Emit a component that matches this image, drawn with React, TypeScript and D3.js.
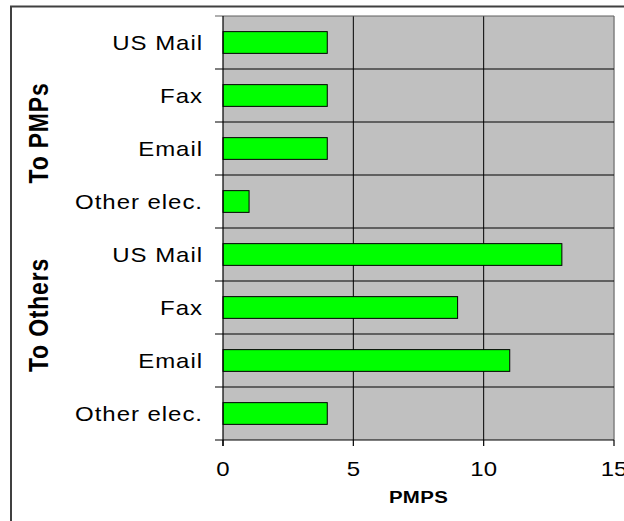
import React from "react";
import * as d3 from "d3";

// categories top to bottom
const categories = ["US Mail", "Fax", "Email", "Other elec.", "US Mail", "Fax", "Email", "Other elec."];
const groups = ["To PMPs", "To PMPs", "To PMPs", "To PMPs", "To Others", "To Others", "To Others", "To Others"];
const values = [4, 4, 4, 1, 13, 9, 11, 4];
const groupLabels = ["To PMPs", "To Others"];
const xTicks = [0, 5, 10, 15];
const xTitle = "PMPS";

const W = 624;
const H = 521;
const margin = { top: 16, right: 10, bottom: 81, left: 223 };
const font = "'Liberation Sans', Arial, sans-serif";
const sx = 1.2; // the original text is drawn a bit wide

const App = () => {
	const x = d3.scaleLinear().domain([0, 15]).range([margin.left, W - margin.right]);
	const keys = categories.map((c, i) => i + ":" + c);
	const y = d3.scaleBand().domain(keys).range([margin.top, H - margin.bottom]).padding(0);
	const bw = y.bandwidth();
	const barH = bw * 0.41;
	const x0 = x(0);
	const x1 = x(15);
	const yTop = margin.top;
	const yBot = H - margin.bottom;
	const bounds = keys.map((k) => y(k)).concat([yBot]);

	// centre of each group's bands
	const groupCenter = (g) => {
		const idx = groups.map((gg, i) => (gg === g ? i : -1)).filter((i) => i >= 0);
		const a = y(keys[idx[0]]);
		const b = y(keys[idx[idx.length - 1]]) + bw;
		return (a + b) / 2;
	};

	return (
		<svg width={W} height={H} style={{ position: "absolute", left: 0, top: 0 }}>
			<rect x={0} y={0} width={W} height={H} fill="#fff" />
			<rect x={11} y={6.5} width={W + 20} height={H + 20} fill="none" stroke="#404040" strokeWidth={2} />

			<rect x={x0} y={yTop} width={x1 - x0} height={yBot - yTop} fill="#c0c0c0" />

			{xTicks.slice(1, -1).map((t) => (
				<line key={"g" + t} x1={x(t)} x2={x(t)} y1={yTop} y2={yBot} stroke="#000" strokeWidth={1} />
			))}
			<line x1={x1} x2={x1} y1={yTop} y2={yBot} stroke="#808080" strokeWidth={1.5} />

			{bounds.map((b, i) => (
				<line key={"h" + i} x1={x0 - 8} x2={x1} y1={b} y2={b} stroke={i === 0 ? "#606060" : "#000"} strokeWidth={1.2} />
			))}

			{keys.map((k, i) => (
				<rect
					key={"b" + k}
					x={x0}
					y={y(k) + (bw - barH) / 2}
					width={x(values[i]) - x0}
					height={barH}
					fill="#00ff00"
					stroke="#000"
					strokeWidth={1}
				/>
			))}

			<line x1={x0} x2={x0} y1={yTop} y2={yBot + 6} stroke="#000" strokeWidth={1.2} />
			{xTicks.map((t) => (
				<line key={"t" + t} x1={x(t)} x2={x(t)} y1={yBot} y2={yBot + 6} stroke="#000" strokeWidth={1.2} />
			))}

			{keys.map((k, i) => (
				<text
					key={"l" + k}
					transform={`translate(203,${y(k) + bw / 2 + 7.5}) scale(${sx},1)`}
					textAnchor="end"
					fontFamily={font}
					fontSize={20}
					letterSpacing={0.8}
					fill="#000"
				>
					{categories[i]}
				</text>
			))}

			{xTicks.map((t) => (
				<text
					key={"xl" + t}
					transform={`translate(${x(t)},476) scale(${sx},1)`}
					textAnchor="middle"
					fontFamily={font}
					fontSize={20}
					fill="#000"
				>
					{t}
				</text>
			))}

			<text
				transform={`translate(${(x0 + x1) / 2},503) scale(${sx},1)`}
				textAnchor="middle"
				fontFamily={font}
				fontSize={17}
				fontWeight="bold"
				letterSpacing={0.3}
				fill="#000"
			>
				{xTitle}
			</text>

			{groupLabels.map((g) => {
				const cy = groupCenter(g) + (g === "To PMPs" ? 11 : -19);
				return (
					<text
						key={"gl" + g}
						transform={`translate(48,${cy}) rotate(-90) scale(1,${sx})`}
						textAnchor="middle"
						fontFamily={font}
						fontSize={23}
						fontWeight="bold"
						letterSpacing={0.8}
						fill="#000"
					>
						{g}
					</text>
				);
			})}
		</svg>
	);
};

export default App;
